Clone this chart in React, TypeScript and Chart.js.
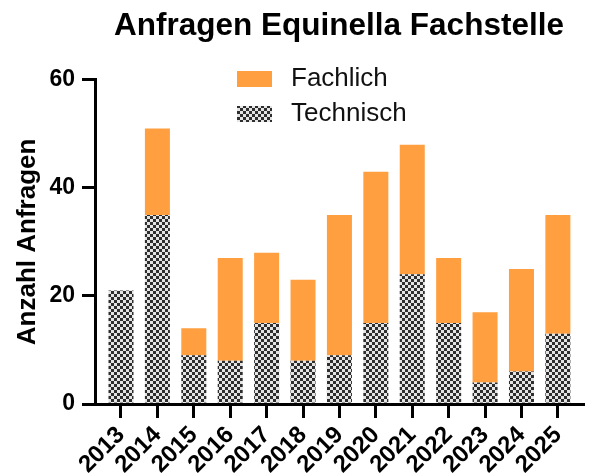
import React, { useEffect, useRef } from "react";
import { Chart, registerables } from "chart.js";

Chart.register(...registerables);

const years = ["2013", "2014", "2015", "2016", "2017", "2018", "2019", "2020", "2021", "2022", "2023", "2024", "2025"];
const technisch = [21, 35, 9, 8, 15, 8, 9, 15, 24, 15, 4, 6, 13];
const fachlich = [0, 16, 5, 19, 13, 15, 26, 28, 24, 12, 13, 19, 22];
const yTicks = [0, 20, 40, 60];

const FONT = "'Liberation Sans', Arial, sans-serif";

function makePattern(): CanvasPattern | string {
  const c = document.createElement("canvas");
  c.width = 6;
  c.height = 6;
  const g = c.getContext("2d");
  if (!g) return "#555";
  g.fillStyle = "#e4e4e4";
  g.fillRect(0, 0, 6, 6);
  g.fillStyle = "#2e2e2e";
  g.fillRect(0, 0, 3, 3);
  g.fillRect(3, 3, 3, 3);
  const p = g.createPattern(c, "repeat");
  return p || "#555";
}

const legendPlugin = {
  id: "insideLegend",
  afterDraw(chart: any) {
    const ctx = chart.ctx;
    const order = [1, 0];
    ctx.save();
    order.forEach((dsIndex, row) => {
      const ds = chart.data.datasets[dsIndex];
      const bx = 237;
      const by = 71 + row * 35;
      ctx.fillStyle = ds.backgroundColor;
      ctx.fillRect(bx, by, 35, 16);
      ctx.fillStyle = "#111";
      ctx.font = `26px ${FONT}`;
      ctx.textAlign = "left";
      ctx.textBaseline = "middle";
      ctx.fillText(ds.label, 291, by + 8);
    });
    ctx.restore();
  },
};

export default function App() {
  const ref = useRef<HTMLCanvasElement | null>(null);

  useEffect(() => {
    document.body.style.margin = "0";
    const canvas = ref.current;
    if (!canvas) return;
    const pattern = makePattern();
    const chart = new Chart(canvas, {
      type: "bar",
      data: {
        datasets: [
          {
            label: "Technisch",
            data: technisch.map((v, i) => ({ x: i, y: v })),
            backgroundColor: pattern as any,
            borderWidth: 0,
            barPercentage: 0.687,
            categoryPercentage: 1,
          },
          {
            label: "Fachlich",
            data: fachlich.map((v, i) => ({ x: i, y: v })),
            backgroundColor: "#FF9F40",
            borderWidth: 0,
            barPercentage: 0.687,
            categoryPercentage: 1,
          },
        ],
      },
      options: {
        animation: false,
        responsive: false,
        layout: { padding: { left: 0, right: 10, top: 0, bottom: 0 } },
        plugins: {
          legend: { display: false },
          tooltip: { enabled: false },
          title: {
            display: true,
            text: "Anfragen Equinella Fachstelle",
            fullSize: false,
            color: "#000",
            font: { family: FONT, size: 31.5, weight: "bold" },
            padding: { top: 7, bottom: 35 },
          },
        },
        scales: {
          x: {
            type: "linear",
            stacked: true,
            offset: false,
            min: -0.714,
            max: 12.69,
            afterBuildTicks(scale: any) {
              scale.ticks = years.map((_, i) => ({ value: i }));
            },
            afterFit(scale: any) {
              scale.height = 71;
            },
            ticks: {
              autoSkip: false,
              minRotation: 45,
              maxRotation: 45,
              padding: 3,
              color: "#000",
              font: { family: FONT, size: 24, weight: "bold" },
              callback: (v: any) => years[Math.round(Number(v))] ?? "",
            },
            grid: {
              display: true,
              offset: false,
              drawOnChartArea: false,
              drawTicks: true,
              tickLength: 14,
              tickWidth: 3,
              tickColor: "#000",
              lineWidth: 3,
              color: "#000",
            },
            border: { display: true, width: 3, color: "#000" },
          },
          y: {
            stacked: true,
            min: 0,
            max: 60,
            afterBuildTicks(scale: any) {
              scale.ticks = yTicks.map((v) => ({ value: v }));
            },
            afterFit(scale: any) {
              scale.width = 95;
            },
            ticks: {
              padding: 7,
              color: "#000",
              font: { family: FONT, size: 23, weight: "bold" },
            },
            grid: {
              display: true,
              drawOnChartArea: false,
              drawTicks: true,
              tickLength: 13,
              tickWidth: 3,
              tickColor: "#000",
              lineWidth: 3,
              color: "#000",
            },
            border: { display: true, width: 3, color: "#000" },
            title: {
              display: true,
              text: "Anzahl Anfragen",
              color: "#000",
              font: { family: FONT, size: 26, weight: "bold" },
              padding: { top: 12, bottom: 0 },
            },
          },
        },
      },
      plugins: [legendPlugin],
    } as any);
    return () => chart.destroy();
  }, []);

  return (
    <div style={{ width: 593, height: 475 }}>
      <canvas ref={ref} width={593} height={475} style={{ display: "block" }} />
    </div>
  );
}
